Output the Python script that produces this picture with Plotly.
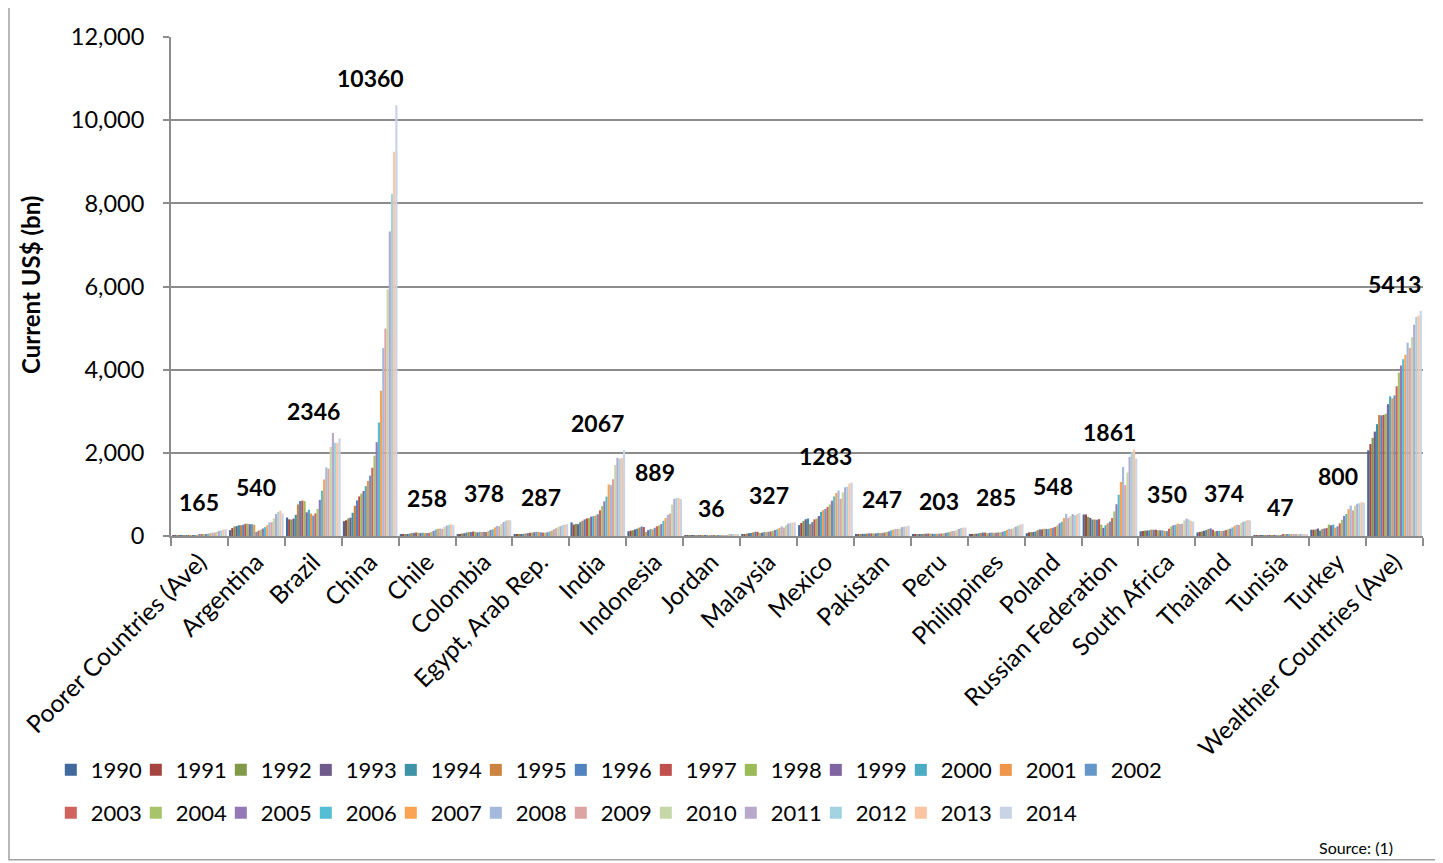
import plotly.graph_objects as go

categories = ["Poorer Countries (Ave)", "Argentina", "Brazil", "China", "Chile", "Colombia",
              "Egypt, Arab Rep.", "India", "Indonesia", "Jordan", "Malaysia", "Mexico",
              "Pakistan", "Peru", "Philippines", "Poland", "Russian Federation", "South Africa",
              "Thailand", "Tunisia", "Turkey", "Wealthier Countries (Ave)"]

years = [str(y) for y in range(1990, 2015)]

# GDP, current US$ bn, 1990..2014 per category
poorer = [4, 4, 5, 5, 6, 8, 10, 13, 15, 18, 22, 24, 27, 32, 38, 45, 55, 68, 80, 85, 100, 120, 135, 155, 165]
argentina = [141, 190, 229, 237, 258, 258, 272, 293, 299, 284, 284, 269, 98, 128, 152, 181, 213, 260, 327, 333, 424, 528, 580, 612, 540]
brazil = [443, 400, 395, 420, 510, 760, 840, 850, 840, 570, 630, 540, 490, 545, 650, 870, 1090, 1360, 1650, 1620, 2140, 2480, 2240, 2240, 2346]
china = [357, 379, 423, 440, 559, 728, 856, 952, 1019, 1083, 1198, 1325, 1454, 1641, 1932, 2257, 2730, 3494, 4520, 4990, 5930, 7322, 8229, 9240, 10360]
chile = [33, 37, 45, 48, 57, 72, 76, 83, 79, 73, 78, 71, 70, 77, 100, 123, 155, 173, 180, 172, 218, 252, 267, 278, 258]
colombia = [47, 49, 58, 66, 82, 92, 97, 107, 99, 86, 100, 98, 98, 95, 117, 146, 162, 207, 244, 234, 287, 336, 370, 380, 378]
egypt = [43, 37, 42, 47, 52, 60, 68, 78, 85, 90, 100, 97, 88, 82, 79, 90, 107, 130, 163, 189, 219, 236, 263, 272, 287]
india = [327, 274, 293, 284, 333, 367, 400, 423, 429, 467, 477, 494, 524, 618, 722, 834, 949, 1239, 1224, 1365, 1708, 1880, 1859, 1877, 2067]
indonesia = [114, 128, 139, 158, 177, 202, 227, 215, 95, 140, 165, 160, 196, 235, 257, 286, 365, 432, 510, 540, 755, 893, 918, 910, 889]
jordan = [4, 4, 5, 6, 6, 7, 7, 7, 8, 8, 9, 9, 10, 10, 11, 13, 15, 17, 22, 24, 26, 29, 31, 34, 36]
malaysia = [44, 49, 59, 67, 74, 89, 101, 100, 72, 79, 94, 93, 101, 110, 125, 144, 163, 194, 231, 202, 255, 298, 314, 323, 327]
mexico = [262, 314, 363, 403, 421, 287, 333, 400, 421, 481, 581, 622, 650, 700, 759, 849, 951, 1035, 1094, 895, 1051, 1171, 1186, 1262, 1283]
pakistan = [40, 46, 49, 52, 52, 60, 63, 62, 62, 63, 74, 72, 72, 83, 98, 110, 137, 152, 170, 168, 177, 214, 225, 232, 247]
peru = [26, 34, 36, 35, 45, 53, 55, 59, 57, 51, 53, 53, 56, 59, 66, 75, 88, 102, 121, 121, 149, 171, 193, 202, 203]
philippines = [44, 45, 53, 55, 64, 74, 83, 82, 66, 76, 81, 76, 81, 84, 91, 103, 122, 149, 174, 168, 200, 224, 250, 272, 285]
poland = [65, 86, 95, 96, 110, 142, 159, 159, 175, 170, 172, 190, 199, 218, 255, 306, 344, 429, 533, 439, 479, 528, 500, 525, 548]
russia = [517, 518, 460, 435, 395, 396, 392, 405, 271, 196, 260, 307, 345, 430, 591, 764, 990, 1300, 1661, 1223, 1525, 1905, 2017, 2079, 1861]
south_africa = [112, 120, 130, 130, 136, 155, 147, 153, 138, 136, 136, 121, 116, 175, 229, 258, 272, 299, 287, 296, 375, 416, 397, 366, 350]
thailand = [85, 98, 111, 125, 144, 168, 182, 151, 112, 122, 123, 115, 127, 143, 161, 176, 207, 247, 273, 264, 319, 346, 366, 387, 374]
tunisia = [12, 13, 16, 15, 16, 18, 20, 20, 21, 22, 22, 22, 23, 27, 31, 32, 34, 39, 45, 44, 44, 46, 45, 46, 47]
turkey = [151, 151, 159, 180, 131, 170, 181, 190, 275, 256, 273, 200, 233, 304, 391, 483, 530, 647, 731, 615, 731, 775, 789, 823, 800]
wealthier = [2060, 2210, 2360, 2510, 2690, 2910, 2900, 2910, 2940, 3170, 3360, 3310, 3380, 3600, 3930, 4100, 4250, 4360, 4650, 4520, 4780, 5080, 5270, 5300, 5413]

series_by_cat = [poorer, argentina, brazil, china, chile, colombia, egypt, india, indonesia,
                 jordan, malaysia, mexico, pakistan, peru, philippines, poland, russia,
                 south_africa, thailand, tunisia, turkey, wealthier]

colors = ["#41699C", "#A5433F", "#83994A", "#6F5A8C", "#3E94A6", "#CC8340",
          "#5283C0", "#C0504D", "#9BBB59", "#8064A2", "#4BACC6", "#F0964A",
          "#6496C8", "#D0635E", "#A8C46A", "#9579B6", "#55BDD4", "#FAA453",
          "#A5B9DC", "#DCA4A3", "#C6D8A8", "#B8A9CC", "#A2D3E0", "#FBC4A3", "#C9D3E6"]

FONT = "Lato, 'Open Sans', sans-serif"

fig = go.Figure()
for i, yr in enumerate(years):
    fig.add_trace(go.Bar(
        x=categories,
        y=[s[i] for s in series_by_cat],
        name=yr,
        marker=dict(color=colors[i], line=dict(width=0)),
        legend="legend" if i < 13 else "legend2",
    ))

# invisible spacer entries so the last legend label in each row is not clipped
for lg in ["legend", "legend2"]:
    fig.add_trace(go.Scatter(x=[None], y=[None], mode="markers", name=" ",
                             marker=dict(opacity=0, color="rgba(0,0,0,0)"),
                             legend=lg, showlegend=True, hoverinfo="skip"))

annotations = []
for cat, s in zip(categories, series_by_cat):
    annotations.append(dict(x=cat, y=s[-1], xref="x", yref="y", text="<b>%d</b>" % s[-1],
                            showarrow=False, yshift=27, font=dict(size=23, color="#000", family=FONT)))

annotations.append(dict(text="<b>Current US$ (bn)</b>", textangle=-90, xref="paper", yref="paper",
                        x=-0.1126, y=0.503, xanchor="center", yanchor="middle", showarrow=False,
                        font=dict(size=24, color="#000", family=FONT)))
annotations.append(dict(text="Source: (1)", xref="paper", yref="paper", x=0.9776, y=-0.625,
                        xanchor="right", yanchor="middle", showarrow=False,
                        font=dict(size=16, color="#000", family=FONT)))

legend_common = dict(orientation="h", xanchor="left", yanchor="top", font=dict(size=22, color="#000", family=FONT),
                     bgcolor="rgba(0,0,0,0)", entrywidth=40, entrywidthmode="pixels", itemwidth=30,
                     traceorder="normal")

fig.update_layout(
    width=1443, height=863,
    margin=dict(l=163, r=28, t=29, b=335, autoexpand=False),
    paper_bgcolor="white", plot_bgcolor="white",
    barmode="group", bargap=0.04, bargroupgap=0,
    font=dict(family=FONT, color="#000"),
    showlegend=True,
    legend=dict(x=-0.096, y=-0.427, **legend_common),
    legend2=dict(x=-0.096, y=-0.513, **legend_common),
    annotations=annotations,
    shapes=[dict(type="rect", xref="paper", yref="paper", x0=-0.1294, x1=1.0112, y0=-0.649, y1=1.072,
                 line=dict(color="#A0A0A0", width=1.5), fillcolor="rgba(0,0,0,0)", layer="below")],
    xaxis=dict(type="category", tickangle=-45, tickfont=dict(size=24.5, color="#000", family=FONT),
               automargin=False,
               showline=True, linecolor="#8C8C8C", linewidth=2, ticks="outside", tickson="boundaries",
               ticklen=8, tickcolor="#8C8C8C", tickwidth=2, showgrid=False),
    yaxis=dict(range=[0, 12000], tick0=0, dtick=2000, tickformat=",d", automargin=False,
               tickfont=dict(size=23.5, color="#000", family=FONT), ticklabelstandoff=14,
               showgrid=True, gridcolor="#8C8C8C", gridwidth=2, zeroline=False,
               showline=True, linecolor="#8C8C8C", linewidth=2, ticks="outside", ticklen=6,
               tickcolor="#8C8C8C", tickwidth=2),
)

fig.write_html("out.html")
